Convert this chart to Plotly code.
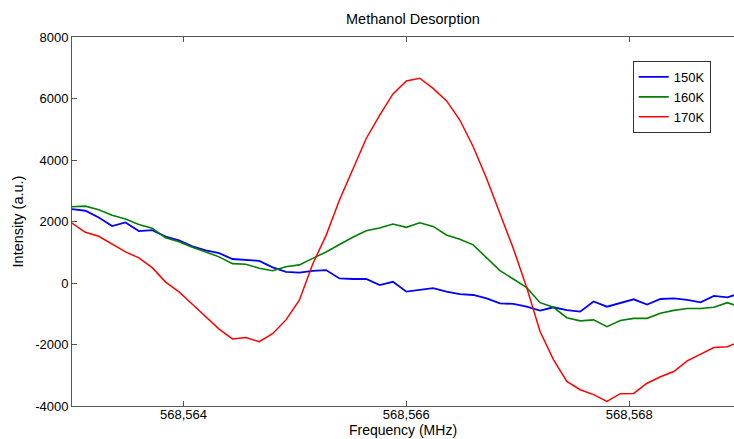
import plotly.graph_objects as go

frequency_mhz = [
    568563.00, 568563.12, 568563.24, 568563.36, 568563.48, 568563.60, 568563.72, 568563.84,
    568563.96, 568564.08, 568564.20, 568564.32, 568564.44, 568564.56, 568564.68, 568564.80,
    568564.92, 568565.04, 568565.16, 568565.28, 568565.40, 568565.52, 568565.64, 568565.76,
    568565.88, 568566.00, 568566.12, 568566.24, 568566.36, 568566.48, 568566.60, 568566.72,
    568566.84, 568566.96, 568567.08, 568567.20, 568567.32, 568567.44, 568567.56, 568567.68,
    568567.80, 568567.92, 568568.04, 568568.16, 568568.28, 568568.40, 568568.52, 568568.64,
    568568.76, 568568.88, 568569.00,
]

intensity_150k = [
    2400, 2350, 2130, 1850, 1970, 1690, 1720, 1510, 1390, 1190, 1060, 970, 780, 760, 720, 510,
    360, 335, 395, 420, 150, 130, 130, -70, 40, -280, -230, -170, -280, -360, -390, -500,
    -660, -680, -770, -900, -790, -880, -930, -600, -770, -650, -530, -700, -520, -500, -550,
    -630, -420, -470, -330,
]

intensity_160k = [
    2480, 2500, 2380, 2200, 2080, 1900, 1780, 1470, 1340, 1160, 1010, 850, 630, 610, 480, 400,
    530, 590, 800, 1010, 1250, 1490, 1700, 1790, 1920, 1810, 1960, 1840, 1560, 1420, 1240, 830,
    400, 130, -150, -640, -790, -1130, -1230, -1200, -1420, -1220, -1150, -1150, -985, -890,
    -830, -830, -790, -640, -780,
]

intensity_170k = [
    1950, 1650, 1520, 1270, 1010, 820, 500, 30, -290, -690, -1080, -1500, -1820, -1770, -1910,
    -1650, -1200, -560, 620, 1550, 2700, 3700, 4700, 5450, 6150, 6570, 6660, 6330, 5930, 5300,
    4430, 3400, 2280, 1120, -150, -1580, -2490, -3200, -3470, -3630, -3850, -3600, -3590,
    -3260, -3050, -2880, -2530, -2320, -2100, -2070, -1900,
]

series_names = ["150K", "160K", "170K"]
series_colors = ["#0000ff", "#008000", "#ff0000"]

x_tick_vals = [568564, 568566, 568568]
x_tick_text = ["568,564", "568,566", "568,568"]
y_tick_vals = [-4000, -2000, 0, 2000, 4000, 6000, 8000]
y_tick_text = ["-4000", "-2000", "0", "2000", "4000", "6000", "8000"]

FONT = "Arial, Liberation Sans, sans-serif"

fig = go.Figure()
for name, ys, col, w in zip(series_names, [intensity_150k, intensity_160k, intensity_170k],
                            series_colors, [1.8, 1.6, 1.5]):
    fig.add_trace(go.Scatter(x=frequency_mhz, y=ys, mode="lines", name=name,
                             line=dict(color=col, width=w)))

fig.update_layout(
    width=734, height=439,
    margin=dict(l=72, r=0, t=37, b=33),
    paper_bgcolor="white", plot_bgcolor="white",
    font=dict(family=FONT, size=13, color="black"),
    title=dict(text="Methanol Desorption", x=0.515, xref="paper", xanchor="center",
               y=1, yref="container", yanchor="top", pad=dict(t=14),
               font=dict(family=FONT, size=14.5, color="black")),
    showlegend=True,
    legend=dict(x=0.847, y=0.935, xanchor="left", yanchor="top",
                bgcolor="white", bordercolor="#333333", borderwidth=1,
                font=dict(family=FONT, size=13, color="black"),
                tracegroupgap=0, itemwidth=30),
)

fig.update_xaxes(
    range=[568563.0, 568568.94],
    tickvals=x_tick_vals, ticktext=x_tick_text,
    ticks="inside", ticklen=5, tickcolor="#555555",
    ticklabelstandoff=-4,
    showline=True, linecolor="#555555", linewidth=1, mirror="ticks",
    showgrid=False, zeroline=False,
    tickfont=dict(family=FONT, size=13, color="black"),
    title=dict(text="Frequency (MHz)", standoff=4,
               font=dict(family=FONT, size=14, color="black")),
)
fig.update_yaxes(
    range=[-4000, 8000],
    tickvals=y_tick_vals, ticktext=y_tick_text,
    ticks="inside", ticklen=5, tickcolor="#555555",
    showline=True, linecolor="#555555", linewidth=1, mirror=False,
    showgrid=False, zeroline=False,
    tickfont=dict(family=FONT, size=13, color="black"),
    title=dict(text="Intensity (a.u.)", standoff=8,
               font=dict(family=FONT, size=14.5, color="black")),
)

fig.write_html("out.html")
